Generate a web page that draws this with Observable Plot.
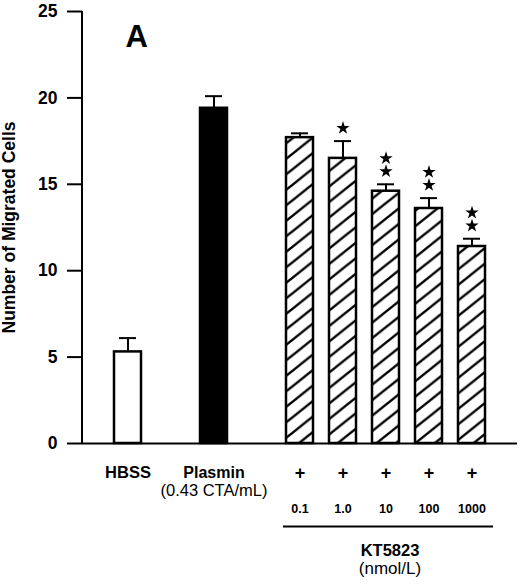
<!DOCTYPE html>
<html><head><meta charset="utf-8">
<script src="https://cdn.jsdelivr.net/npm/d3@7"></script>
<script src="https://cdn.jsdelivr.net/npm/@observablehq/plot@0.6"></script>
<style>body{margin:0;background:#fff}</style>
</head><body><div id="chart"></div>
<script>
// ---- data ----
const conditions = ["HBSS", "Plasmin", "0.1", "1.0", "10", "100", "1000"];
const treatment = ["control", "plasmin", "kt5823", "kt5823", "kt5823", "kt5823", "kt5823"];
const meanCells = [5.3, 19.4, 17.7, 16.5, 14.6, 13.6, 11.4];
const semCells = [0.8, 0.7, 0.25, 1.0, 0.4, 0.6, 0.45];
const starCount = [0, 0, 0, 1, 2, 2, 2];
const yTicks = [0, 5, 10, 15, 20, 25];
const yLabel = "Number of Migrated Cells";
const panelLabel = "A";
const plasminDose = "(0.43 CTA/mL)";
const drugName = "KT5823";
const drugUnit = "(nmol/L)";
const drugMark = "+";

const data = conditions.map((c, i) => ({cond: c, group: treatment[i], mean: meanCells[i], sem: semCells[i], stars: starCount[i]}));
const kt = data.filter(d => d.group === "kt5823");
const xDomain = [conditions[0], "gap-1", conditions[1], "gap-2", ...kt.map(d => d.cond)];

function decor(index, scales, values, dims) {
  const ns = "http://www.w3.org/2000/svg";
  const g = document.createElementNS(ns, "g");
  g.innerHTML = `<defs><pattern id="hatch" patternUnits="userSpaceOnUse" width="19.4" height="15.5">
    <rect width="19.4" height="15.5" fill="white"/>
    <path d="M0,15.5L19.4,0M-3,2.4L3,-2.4M16.4,17.9L22.4,13.1" stroke="black" stroke-width="2.4" fill="none"/>
  </pattern></defs>`;
  const line = document.createElementNS(ns, "line");
  const x0 = dims.marginLeft;
  line.setAttribute("x1", x0); line.setAttribute("x2", x0);
  line.setAttribute("y1", scales.y(yTicks[yTicks.length - 1]));
  line.setAttribute("y2", scales.y(0));
  line.setAttribute("stroke", "black");
  line.setAttribute("stroke-width", 2);
  g.appendChild(line);
  return g;
}

const errTop = d => d.mean + d.sem;

const plot = Plot.plot({
  width: 520,
  height: 584,
  marginLeft: 82,
  marginRight: 3,
  marginTop: 11,
  marginBottom: 141,
  style: {fontFamily: "'Liberation Sans', Arial, sans-serif", fontWeight: "bold", background: "white", overflow: "visible"},
  x: {type: "band", domain: xDomain, paddingInner: 0.377, paddingOuter: 0.703, axis: null},
  y: {domain: [0, 25], axis: null},
  marks: [
    decor,
    Plot.axisY({ticks: yTicks, tickSize: 15, tickPadding: 10, fontSize: 17.5, strokeWidth: 2, label: null}),
    Plot.text([yLabel], {frameAnchor: "left", textAnchor: "middle", rotate: -90, dx: -73, fontSize: 17.5}),
    Plot.text([panelLabel], {frameAnchor: "top-left", textAnchor: "start", dx: 43, dy: 13, fontSize: 31, lineAnchor: "top"}),
    Plot.barY(data.filter(d => d.group === "control"), {x: "cond", y: "mean", fill: "white", stroke: "black", strokeWidth: 2.5}),
    Plot.barY(data.filter(d => d.group === "plasmin"), {x: "cond", y: "mean", fill: "black", stroke: "black", strokeWidth: 2.5}),
    Plot.barY(kt, {x: "cond", y: "mean", fill: "url(#hatch)", stroke: "black", strokeWidth: 2.5}),
    Plot.ruleX(data, {x: "cond", y1: "mean", y2: errTop, strokeWidth: 2}),
    Plot.tickY(data, {x: "cond", y: errTop, insetLeft: 5, insetRight: 5, strokeWidth: 2}),
    Plot.dot(data.filter(d => d.stars >= 1), {x: "cond", y: errTop, symbol: "star", r: 4.2, fill: "black", stroke: "none", dy: -13}),
    Plot.dot(data.filter(d => d.stars >= 2), {x: "cond", y: errTop, symbol: "star", r: 4.2, fill: "black", stroke: "none", dy: -26}),
    Plot.ruleY([0], {strokeWidth: 2}),
    // category labels under the axis
    Plot.text([data[0]], {x: "cond", text: "cond", frameAnchor: "bottom", lineAnchor: "bottom", dy: 34, fontSize: 16.5}),
    Plot.text([data[1]], {x: "cond", text: "cond", frameAnchor: "bottom", lineAnchor: "bottom", dy: 34, fontSize: 16}),
    Plot.text([data[1]], {x: "cond", text: () => plasminDose, frameAnchor: "bottom", lineAnchor: "bottom", dy: 52, fontSize: 16.5, fontWeight: "normal"}),
    Plot.text(kt, {x: "cond", text: () => drugMark, frameAnchor: "bottom", lineAnchor: "bottom", dy: 35, fontSize: 18}),
    Plot.text(kt, {x: "cond", text: "cond", frameAnchor: "bottom", lineAnchor: "bottom", dy: 69, fontSize: 12.5}),
    Plot.ruleY([0], {x1: [kt[0].cond], x2: [kt[kt.length - 1].cond], dy: 83, insetLeft: -3, insetRight: -8, strokeWidth: 2}),
    Plot.text([kt[2]], {x: "cond", text: () => drugName, frameAnchor: "bottom", lineAnchor: "bottom", dx: 4, dy: 112, fontSize: 16.5}),
    Plot.text([kt[2]], {x: "cond", text: () => drugUnit, frameAnchor: "bottom", lineAnchor: "bottom", dx: 4, dy: 130, fontSize: 17, fontWeight: "normal"})
  ]
});
document.getElementById("chart").appendChild(plot);
</script>
</body></html>
